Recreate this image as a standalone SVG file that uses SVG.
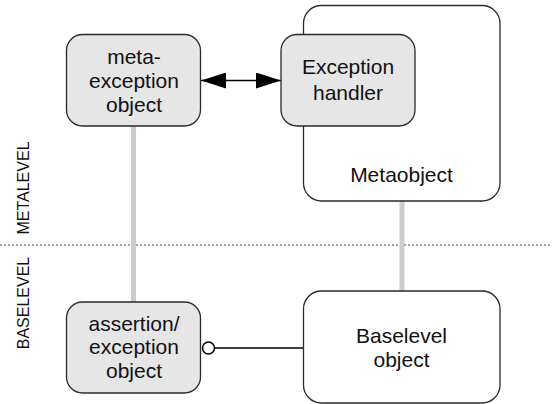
<svg xmlns="http://www.w3.org/2000/svg" width="552" height="404" viewBox="0 0 552 404">
  <style>
    .box { stroke: #2a2a2a; stroke-width: 1.3; }
    .grey { fill: #e6e6e6; }
    .white { fill: #ffffff; }
    .lbl { font-family: "Liberation Sans", Arial, sans-serif; font-size: 21px; fill: #111; text-anchor: middle; }
    .lvl { font-family: "Liberation Sans", Arial, sans-serif; font-size: 16px; fill: #111; text-anchor: middle; }
    .link { stroke: #cccccc; stroke-width: 5; fill: none; }
  </style>
  <defs>
    <marker id="head" markerUnits="userSpaceOnUse" markerWidth="25" markerHeight="16" refX="25" refY="8" orient="auto-start-reverse">
      <path d="M0,0 L25,8 L0,16 Z" fill="#000"/>
    </marker>
  </defs>
  <rect width="552" height="404" fill="#ffffff"/>

  <!-- level separator and labels -->
  <g id="levels">
    <line x1="0" y1="245" x2="552" y2="245" stroke="#444" stroke-width="1" stroke-dasharray="2,2"/>
    <text class="lvl" transform="translate(28.8,188) rotate(-90)">METALEVEL</text>
    <text class="lvl" transform="translate(28.8,303) rotate(-90)">BASELEVEL</text>
  </g>

  <!-- connectors -->
  <g id="connectors">
    <line class="link" x1="133.5" y1="126" x2="133.5" y2="302"/>
    <line class="link" x1="402" y1="201" x2="402" y2="291"/>
    <line x1="201" y1="80.5" x2="281" y2="80.5" stroke="#000" stroke-width="1.5" marker-start="url(#head)" marker-end="url(#head)"/>
    <line x1="214.5" y1="348" x2="303.5" y2="348" stroke="#000" stroke-width="1.5"/>
    <circle cx="208.5" cy="348" r="6" fill="#fff" stroke="#000" stroke-width="1.5"/>
  </g>

  <g id="metaobject">
    <rect class="box white" x="303.5" y="5.5" width="196.5" height="195.5" rx="18"/>
    <text class="lbl" x="401.5" y="182">Metaobject</text>
  </g>

  <g id="exception-handler">
    <rect class="box grey" x="281" y="34.5" width="134" height="91.5" rx="16"/>
    <text class="lbl" x="348" y="74">Exception</text>
    <text class="lbl" x="348" y="99.5">handler</text>
  </g>

  <g id="meta-exception-object">
    <rect class="box grey" x="66.5" y="34.5" width="134" height="91.5" rx="16"/>
    <text class="lbl" x="134" y="63.5">meta-</text>
    <text class="lbl" x="134" y="87.5">exception</text>
    <text class="lbl" x="134" y="111.5">object</text>
  </g>

  <g id="assertion-exception-object">
    <rect class="box grey" x="66.5" y="302" width="134" height="91" rx="16"/>
    <text class="lbl" x="134" y="330.5">assertion/</text>
    <text class="lbl" x="134" y="354">exception</text>
    <text class="lbl" x="134" y="378">object</text>
  </g>

  <g id="baselevel-object">
    <rect class="box white" x="303.5" y="291" width="196.5" height="112" rx="18"/>
    <text class="lbl" x="401.5" y="342.5">Baselevel</text>
    <text class="lbl" x="401.5" y="366.5">object</text>
  </g>
</svg>
